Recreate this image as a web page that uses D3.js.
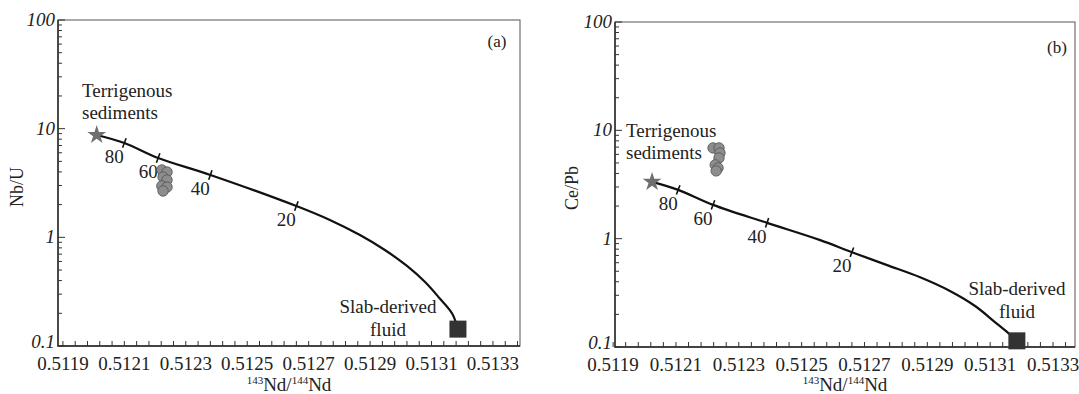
<!DOCTYPE html>
<html>
<head>
<meta charset="utf-8">
<script src="https://cdn.jsdelivr.net/npm/d3@7"></script>
<style>
  body { margin: 0; background: #fff; }
  svg { display: block; }
</style>
</head>
<body>
<svg id="chart" width="1079" height="394"></svg>
<script>
// axis ticks
const xTickLabels = [0.5119, 0.5121, 0.5123, 0.5125, 0.5127, 0.5129, 0.5131, 0.5133];
const yTickLabels = [0.1, 1, 10, 100];
const mixPercents = [80, 60, 40, 20];

// panel (a) Nb/U vs 143Nd/144Nd
const curveAx = [0.51201, 0.51210, 0.51221, 0.51238, 0.51266, 0.512769, 0.512867, 0.512948, 0.51302, 0.513079, 0.513127, 0.513167, 0.513186];
const curveAy = [8.75, 7.38, 5.37, 3.75, 1.94, 1.444, 1.05, 0.765, 0.545, 0.388, 0.2735, 0.199, 0.143];
const mixAx = [0.51210, 0.51221, 0.51238, 0.51266];
const mixAy = [7.38, 5.37, 3.75, 1.94];
const sampleAx = [0.512222, 0.512239, 0.512226, 0.512239, 0.512222, 0.512239, 0.512226];
const sampleAy = [4.17, 3.99, 3.59, 3.37, 2.97, 2.90, 2.67];
const sedimentA = [0.51201, 8.75];
const fluidA = [0.513186, 0.143];

// panel (b) Ce/Pb vs 143Nd/144Nd
const curveBx = [0.512024, 0.512107, 0.512218, 0.51239, 0.512559, 0.51266, 0.512772, 0.512877, 0.512972, 0.513052, 0.513115, 0.513157, 0.513185];
const curveBy = [3.34, 2.82, 2.05, 1.40, 0.97, 0.75, 0.57, 0.44, 0.329, 0.239, 0.170, 0.135, 0.114];
const mixBx = [0.512107, 0.512218, 0.51239, 0.51266];
const mixBy = [2.82, 2.05, 1.40, 0.75];
const sampleBx = [0.512218, 0.512237, 0.51224, 0.512237, 0.512225, 0.512234, 0.512228];
const sampleBy = [6.88, 6.88, 6.18, 5.56, 4.80, 4.50, 4.22];
const sedimentB = [0.512024, 3.34];
const fluidB = [0.513185, 0.114];

const FONT = "'Liberation Serif', 'DejaVu Serif', 'Noto Serif', 'Nimbus Roman', FreeSerif, Tinos, Times, serif";
const svg = d3.select("#chart").attr("font-family", FONT);

function label(sel) {
  return sel.append("text").attr("font-family", FONT).attr("fill", "#222");
}

function drawPanel(p) {
  const x = d3.scaleLinear().domain(p.xDomain).range([p.left, p.right]);
  const y = d3.scaleLog().domain([0.1, 100]).range([p.bottom, p.top]);
  const g = svg.append("g");

  // frame
  g.append("rect")
    .attr("x", p.left).attr("y", p.top)
    .attr("width", p.right - p.left).attr("height", p.bottom - p.top)
    .attr("fill", "none").attr("stroke", "#555").attr("stroke-width", 1);
  g.append("path")
    .attr("d", `M${p.left},${p.top}V${p.bottom}H${p.right}`)
    .attr("fill", "none").attr("stroke", "#222").attr("stroke-width", 1.4);

  // x ticks (inward), every 0.00004
  const xMinor = d3.range(0.5119, p.xDomain[1], 0.00004);
  g.selectAll(".xt").data(xMinor).enter().append("line")
    .attr("x1", d => x(d)).attr("x2", d => x(d))
    .attr("y1", p.bottom).attr("y2", p.bottom - 5)
    .attr("stroke", "#333").attr("stroke-width", 1);
  xTickLabels.forEach(d => {
    label(g).attr("x", x(d)).attr("y", p.bottom + 24)
      .attr("text-anchor", "middle").attr("font-size", 19)
      .text(d.toFixed(4));
  });

  // y ticks (inward), log minor
  const yMinor = [];
  yTickLabels.slice(0, 3).forEach(d => { for (let k = 2; k <= 9; k++) yMinor.push(d * k); });
  g.selectAll(".ym").data(yMinor).enter().append("line")
    .attr("x1", p.left).attr("x2", p.left + 4)
    .attr("y1", d => y(d)).attr("y2", d => y(d))
    .attr("stroke", "#333").attr("stroke-width", 1);
  g.selectAll(".yM").data(yTickLabels).enter().append("line")
    .attr("x1", p.left).attr("x2", p.left + 7)
    .attr("y1", d => y(d)).attr("y2", d => y(d))
    .attr("stroke", "#333").attr("stroke-width", 1);
  yTickLabels.forEach(d => {
    label(g).attr("x", p.left - 3).attr("y", y(d) + (d === 0.1 ? 2 : 6))
      .attr("text-anchor", "end").attr("font-size", 19).attr("font-style", "italic")
      .text(d);
  });

  // axis titles
  const xt = label(g)
    .attr("x", (p.left + p.right) / 2).attr("y", 391)
    .attr("text-anchor", "middle").attr("font-size", 19);
  xt.append("tspan").attr("font-size", 11).attr("dy", -7).text("143");
  xt.append("tspan").attr("dy", 7).text("Nd/");
  xt.append("tspan").attr("font-size", 11).attr("dy", -7).text("144");
  xt.append("tspan").attr("dy", 7).text("Nd");

  label(g)
    .attr("transform", `translate(${p.yLabelX},${p.yLabelY}) rotate(-90)`)
    .attr("text-anchor", "middle").attr("font-size", 18)
    .text(p.yLabel);

  label(g)
    .attr("x", p.tag[0]).attr("y", p.tag[1])
    .attr("text-anchor", "middle").attr("font-size", 17)
    .text(p.tagText);

  // mixing curve
  const pts = p.cx.map((d, i) => [x(d), y(p.cy[i])]);
  g.append("path")
    .attr("d", d3.line().curve(d3.curveCatmullRom.alpha(0.5))(pts))
    .attr("fill", "none").attr("stroke", "#111").attr("stroke-width", 2.2);

  // mixing ticks + labels
  p.mx.forEach((d, i) => {
    const px = x(d), py = y(p.my[i]);
    const j = p.cx.indexOf(d);
    const a = pts[Math.max(j - 1, 0)], b = pts[Math.min(j + 1, pts.length - 1)];
    const dx = b[0] - a[0], dy = b[1] - a[1], len = Math.hypot(dx, dy);
    const nx = -dy / len * 5, ny = dx / len * 5;
    g.append("line")
      .attr("x1", px - nx).attr("y1", py - ny)
      .attr("x2", px + nx).attr("y2", py + ny)
      .attr("stroke", "#111").attr("stroke-width", 1.6);
    label(g)
      .attr("x", px - 10).attr("y", py + 20)
      .attr("text-anchor", "middle").attr("font-size", 19)
      .text(mixPercents[i]);
  });

  // samples
  g.selectAll(".s").data(p.sx).enter().append("circle")
    .attr("cx", d => x(d)).attr("cy", (d, i) => y(p.sy[i]))
    .attr("r", 5.2)
    .attr("fill", "#8d8d8d").attr("stroke", "#5a5a5a").attr("stroke-width", 0.9);

  // end members
  g.append("path")
    .attr("d", d3.symbol().type(d3.symbolStar).size(110)())
    .attr("transform", `translate(${x(p.sed[0])},${y(p.sed[1])})`)
    .attr("fill", "#6f6f6f");
  g.append("rect")
    .attr("x", x(p.fluid[0]) - 8.5).attr("y", y(p.fluid[1]) - 8.5)
    .attr("width", 17).attr("height", 17)
    .attr("fill", "#333");

  const st = label(g).attr("font-size", 19);
  st.append("tspan").attr("x", p.sedText[0]).attr("y", p.sedText[1]).text("Terrigenous");
  st.append("tspan").attr("x", p.sedText[0]).attr("y", p.sedText[1] + 22).text("sediments");

  const ft = label(g).attr("font-size", 19).attr("text-anchor", "middle");
  ft.append("tspan").attr("x", p.fluidText[0]).attr("y", p.fluidText[1]).text("Slab-derived");
  ft.append("tspan").attr("x", p.fluidText[0]).attr("y", p.fluidText[1] + 23).text("fluid");
}

drawPanel({
  left: 58, right: 520, top: 20, bottom: 346,
  xDomain: [0.511884, 0.513388],
  cx: curveAx, cy: curveAy, mx: mixAx, my: mixAy,
  sx: sampleAx, sy: sampleAy, sed: sedimentA, fluid: fluidA,
  yLabel: "Nb/U", yLabelX: 23, yLabelY: 187,
  tag: [497, 47], tagText: "(a)",
  sedText: [82, 97],
  fluidText: [388, 313]
});

drawPanel({
  left: 615, right: 1075, top: 22, bottom: 347,
  xDomain: [0.511906, 0.51337],
  cx: curveBx, cy: curveBy, mx: mixBx, my: mixBy,
  sx: sampleBx, sy: sampleBy, sed: sedimentB, fluid: fluidB,
  yLabel: "Ce/Pb", yLabelX: 578, yLabelY: 188,
  tag: [1057, 53], tagText: "(b)",
  sedText: [626, 137],
  fluidText: [1017, 295]
});
</script>
</body>
</html>
